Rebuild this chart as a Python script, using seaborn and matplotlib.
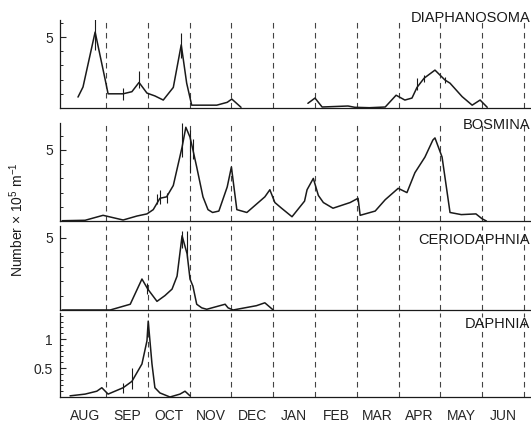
import numpy as np
import pandas as pd
import matplotlib
matplotlib.use("Agg")
import matplotlib.pyplot as plt
import seaborn as sns
from matplotlib.ticker import FixedLocator, MultipleLocator

# ---------------- data (x in months since 1 Aug) ----------------
months = ["AUG", "SEP", "OCT", "NOV", "DEC", "JAN", "FEB", "MAR", "APR", "MAY", "JUN"]
month_bounds = [1, 2, 3, 4, 5, 6, 7, 8, 9, 10, 11]

dia_x = [0.33, 0.45, 0.74, 0.98, 1.05, 1.41, 1.62, 1.79, 1.98, 2.17, 2.37, 2.61, 2.80, 2.93,
         3.05, 3.65, 3.90, 4.01, 4.23, np.nan,
         5.83, 6.00, 6.17, 6.79, 6.95, 7.30, 7.68, 7.94, 8.15, 8.32, 8.44, 8.61, 8.87,
         9.11, 9.23, 9.52, 9.76, 9.95, 10.12]
dia_y = [0.77, 1.48, 5.35, 2.0, 1.0, 1.0, 1.15, 1.8, 1.05, 0.85, 0.56, 1.45, 4.45, 1.75,
         0.2, 0.2, 0.4, 0.63, 0.05, np.nan,
         0.33, 0.7, 0.07, 0.14, 0.05, 0.02, 0.07, 0.9, 0.56, 0.7, 1.45, 2.1, 2.67,
         1.97, 1.75, 0.8, 0.2, 0.56, 0.05]
dia_err_x = [0.74, 1.41, 1.79, 2.80, 8.44, 8.61, 9.11]
dia_err_lo = [4.1, 0.56, 1.4, 3.5, 1.3, 1.8, 1.76]
dia_err_hi = [6.3, 1.4, 2.6, 5.3, 2.1, 2.3, 2.2]

bos_x = [-0.05, 0.5, 0.93, 1.41, 1.74, 1.98, 2.13, 2.29, 2.45, 2.61, 2.82, 2.91, 3.01, 3.08,
         3.17, 3.32, 3.44, 3.55, 3.70, 3.90, 4.00, 4.13, 4.37, 4.80, 4.92, 5.04, 5.20, 5.45,
         5.75, 5.81, 5.96, 6.08, 6.20, 6.43, 6.84, 7.03, 7.08, 7.44, 7.68, 7.99, 8.20, 8.39,
         8.63, 8.82, 8.87, 9.04, 9.23, 9.50, 9.85, 10.00, 10.10]
bos_y = [0.02, 0.05, 0.4, 0.07, 0.35, 0.5, 0.8, 1.6, 1.7, 2.5, 5.2, 6.6, 5.9, 5.0,
         3.8, 1.7, 0.8, 0.6, 0.7, 2.4, 3.8, 0.8, 0.6, 1.7, 2.2, 1.3, 0.9, 0.3,
         1.4, 2.2, 3.0, 1.8, 1.3, 0.9, 1.3, 1.6, 0.4, 0.7, 1.5, 2.3, 2.0, 3.4,
         4.5, 5.7, 5.85, 4.5, 0.6, 0.45, 0.5, 0.15, 0.0]
bos_err_x = [2.22, 2.29, 2.45, 2.82, 3.01, 3.08]
bos_err_lo = [1.2, 1.2, 1.3, 4.5, 3.4, 4.4]
bos_err_hi = [1.9, 2.2, 2.0, 6.9, 6.4, 5.8]

cer_x = [-0.05, 1.10, 1.58, 1.86, 2.00, 2.22, 2.41, 2.58, 2.70, 2.82, 2.94, 3.01, 3.08, 3.17,
         3.29, 3.41, 3.85, 3.92, 4.04, 4.60, 4.80, 5.00]
cer_y = [0.0, 0.0, 0.4, 2.15, 1.45, 0.6, 1.0, 1.45, 2.35, 5.15, 3.9, 2.15, 1.65, 0.4,
         0.15, 0.05, 0.4, 0.15, 0.0, 0.3, 0.5, 0.0]
cer_err_x = [1.98, 2.82, 2.94]
cer_err_lo = [1.1, 4.3, 3.6]
cer_err_hi = [1.9, 5.5, 5.5]

dap_x = [0.14, 0.50, 0.78, 0.90, 1.05, 1.41, 1.62, 1.86, 1.98, 2.01, 2.10, 2.17, 2.29, 2.53,
         2.77, 2.89, 3.01]
dap_y = [0.02, 0.05, 0.1, 0.16, 0.05, 0.16, 0.27, 0.57, 0.97, 1.31, 0.57, 0.16, 0.07, 0.0,
         0.05, 0.1, 0.02]
dap_err_x = [1.41, 1.62]
dap_err_lo = [0.07, 0.14]
dap_err_hi = [0.24, 0.5]

species = ["DIAPHANOSOMA", "BOSMINA", "CERIODAPHNIA", "DAPHNIA"]

# ---------------- style ----------------
sns.set_style("ticks")
plt.rcParams["font.family"] = ["Liberation Sans", "DejaVu Sans"]
plt.rcParams["mathtext.fontset"] = "custom"
plt.rcParams["mathtext.rm"] = "Liberation Sans"
plt.rcParams["mathtext.it"] = "Liberation Sans:italic"

W, H = 531, 422
fig = plt.figure(figsize=(W / 100, H / 100), dpi=100)

# panel extents in pixels: (top, bottom)
panels = [(20, 108), (123, 221), (226, 310), (313, 397)]
ylims = [6.2, 6.9, 5.83, 1.45]
major = [[5], [5], [5], [0.5, 1]]
minor = [1, 1, 1, 0.1]
major_lbl = [["5"], ["5"], ["5"], ["0.5", "1"]]
title_y = [1.02, 0.98, 0.83, 0.87]

series = [(dia_x, dia_y, dia_err_x, dia_err_lo, dia_err_hi),
          (bos_x, bos_y, bos_err_x, bos_err_lo, bos_err_hi),
          (cer_x, cer_y, cer_err_x, cer_err_lo, cer_err_hi),
          (dap_x, dap_y, dap_err_x, dap_err_lo, dap_err_hi)]

left_px = 60
x0_px = 64.2
px_per_month = 41.8
xlim = ((left_px - x0_px) / px_per_month, (W - x0_px) / px_per_month)

line_col = "#1a1a1a"

for i, ((top, bot), (xs, ys, ex, elo, ehi)) in enumerate(zip(panels, series)):
    ax = fig.add_axes([left_px / W, (H - bot) / H, (W - left_px) / W, (bot - top) / H])
    df = pd.DataFrame({"x": xs, "y": ys})
    df["seg"] = df["x"].isna().cumsum()
    df = df.dropna()
    sns.lineplot(data=df, x="x", y="y", units="seg", estimator=None, sort=False,
                 color=line_col, lw=1.1, ax=ax, legend=False)
    ax.vlines(ex, elo, ehi, color=line_col, lw=0.8)
    for m in month_bounds:
        ax.axvline(m, color="#444444", lw=0.8, ls=(0, (5, 4)), zorder=0)
    ax.set_xlim(*xlim)
    ax.set_ylim(0, ylims[i])
    ax.yaxis.set_major_locator(FixedLocator(major[i]))
    ax.set_yticklabels(major_lbl[i])
    ax.yaxis.set_minor_locator(MultipleLocator(minor[i]))
    ax.tick_params(axis="y", which="major", direction="in", length=4, width=0.8,
                   labelsize=10, pad=5)
    ax.tick_params(axis="y", which="minor", direction="in", length=2.5, width=0.7)
    ax.set_xlabel("")
    ax.set_ylabel("")
    for s in ["top", "right"]:
        ax.spines[s].set_visible(False)
    ax.spines["left"].set_linewidth(0.9)
    ax.spines["bottom"].set_linewidth(0.9)
    ax.spines["left"].set_color(line_col)
    ax.spines["bottom"].set_color(line_col)
    ax.text(0.998, title_y[i], species[i], transform=ax.transAxes, ha="right",
            va="center", fontsize=10.5, color=line_col, clip_on=False)
    if i == 3:
        ax.set_xticks([b - 0.5 for b in month_bounds])
        ax.set_xticklabels(months)
        ax.tick_params(axis="x", length=0, labelsize=10, pad=9)
    else:
        ax.set_xticks([])
    ax.patch.set_alpha(0)

fig.text(17 / W, 1 - 220 / H, "Number $\\times$ 10$^5$ m$^{-1}$", rotation=90,
         ha="center", va="center", fontsize=10, color=line_col)

fig.savefig("out.png", dpi=100, facecolor="white")
